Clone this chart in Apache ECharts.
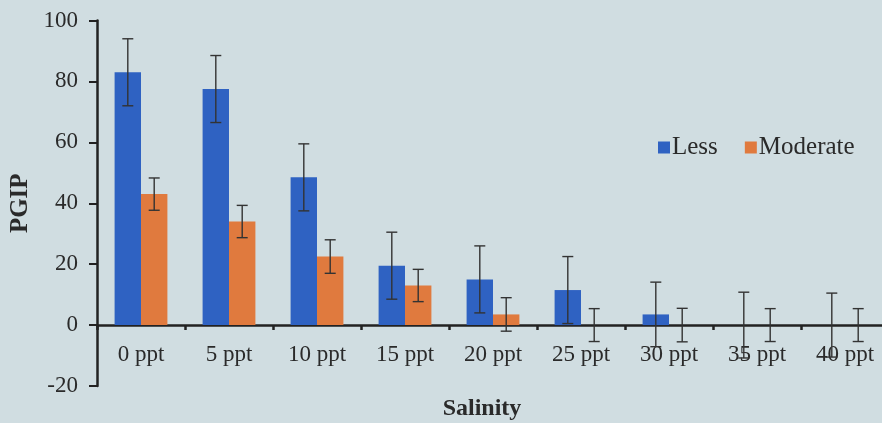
<!DOCTYPE html>
<html>
<head>
<meta charset="utf-8">
<script src="https://cdn.jsdelivr.net/npm/echarts@6/dist/echarts.min.js"></script>
<style>
  html, body { margin: 0; padding: 0; background: #D0DDE1; }
  #chart { width: 882px; height: 423px; }
</style>
</head>
<body>
<div id="chart"></div>
<script>
const categories = ['0 ppt', '5 ppt', '10 ppt', '15 ppt', '20 ppt', '25 ppt', '30 ppt', '35 ppt', '40 ppt'];
const lessValues = [83, 77.5, 48.5, 19.5, 15, 11.5, 3.5, 0, 0];
const moderateValues = [43, 34, 22.5, 13, 3.5, 0, 0, 0, 0];
const lessErrors = [11, 11, 11, 11, 11, 11, 10.6, 10.8, 10.5];
const moderateErrors = [5.3, 5.3, 5.5, 5.3, 5.5, 5.4, 5.5, 5.4, 5.4];
const yTicks = { min: -20, max: 100, interval: 20 };

const FONT = '"Liberation Serif", "Times New Roman", serif';
const TEXT = '#2a2a2a';
const BAR_CAT_GAP = 0.4;

function errData(vals, errs) {
  return vals.map((v, i) => [i, v - errs[i], v + errs[i]]);
}

function errRender(sign) {
  return function (params, api) {
    const idx = api.value(0);
    const lo = api.coord([idx, api.value(1)]);
    const hi = api.coord([idx, api.value(2)]);
    const catW = api.size([1, 0])[0];
    const barW = catW * (1 - BAR_CAT_GAP) / 2;
    const x = lo[0] + sign * barW / 2;
    const cap = 5.5;
    const style = { stroke: '#333333', lineWidth: 1.4 };
    return {
      type: 'group',
      children: [
        { type: 'line', shape: { x1: x, y1: lo[1], x2: x, y2: hi[1] }, style },
        { type: 'line', shape: { x1: x - cap, y1: hi[1], x2: x + cap, y2: hi[1] }, style },
        { type: 'line', shape: { x1: x - cap, y1: lo[1], x2: x + cap, y2: lo[1] }, style }
      ]
    };
  };
}

const chart = echarts.init(document.getElementById('chart'));
chart.setOption({
  backgroundColor: '#D0DDE1',
  animation: false,
  textStyle: { fontFamily: FONT, color: TEXT },
  legend: {
    data: ['Less', 'Moderate'],
    left: 658, top: 135,
    padding: 0,
    itemWidth: 12, itemHeight: 12, itemGap: 27,
    icon: 'rect',
    textStyle: { fontFamily: FONT, fontSize: 25, color: TEXT, padding: [2, 0, 0, -3] }
  },
  grid: { left: 97, right: -7, top: 20.5, bottom: 37, containLabel: false, outerBoundsMode: 'none' },
  xAxis: {
    type: 'category',
    data: categories,
    name: 'Salinity',
    nameLocation: 'middle',
    nameGap: 11,
    nameTextStyle: { fontFamily: FONT, fontSize: 24, fontWeight: 'bold', color: TEXT, padding: [0, 22, 0, 0] },
    axisLine: { onZero: true, lineStyle: { color: '#222', width: 2.5 } },
    axisTick: { show: true, length: 5, lineStyle: { color: '#222', width: 2.5 } },
    axisLabel: { fontFamily: FONT, fontSize: 23, color: TEXT, margin: -43 },
    splitLine: { show: false }
  },
  yAxis: {
    type: 'value',
    min: yTicks.min, max: yTicks.max, interval: yTicks.interval,
    name: 'PGIP',
    nameLocation: 'middle',
    nameGap: 62,
    nameTextStyle: { fontFamily: FONT, fontSize: 25, fontWeight: 'bold', color: TEXT },
    axisLine: { show: true, lineStyle: { color: '#222', width: 2.5 } },
    axisTick: { show: true, length: 8, lineStyle: { color: '#222', width: 2 } },
    axisLabel: { fontFamily: FONT, fontSize: 23, color: TEXT, margin: 19 },
    splitLine: { show: false }
  },
  series: [
    {
      name: 'Less', type: 'bar', data: lessValues,
      barGap: '0%', barCategoryGap: (BAR_CAT_GAP * 100) + '%',
      itemStyle: { color: '#2F62C2' }
    },
    {
      name: 'Moderate', type: 'bar', data: moderateValues,
      barGap: '0%', barCategoryGap: (BAR_CAT_GAP * 100) + '%',
      itemStyle: { color: '#E07A3E' }
    },
    {
      type: 'custom', renderItem: errRender(-1), data: errData(lessValues, lessErrors),
      encode: { x: 0, y: [1, 2] }, z: 5, silent: true
    },
    {
      type: 'custom', renderItem: errRender(1), data: errData(moderateValues, moderateErrors),
      encode: { x: 0, y: [1, 2] }, z: 5, silent: true
    }
  ]
});
</script>
</body>
</html>
